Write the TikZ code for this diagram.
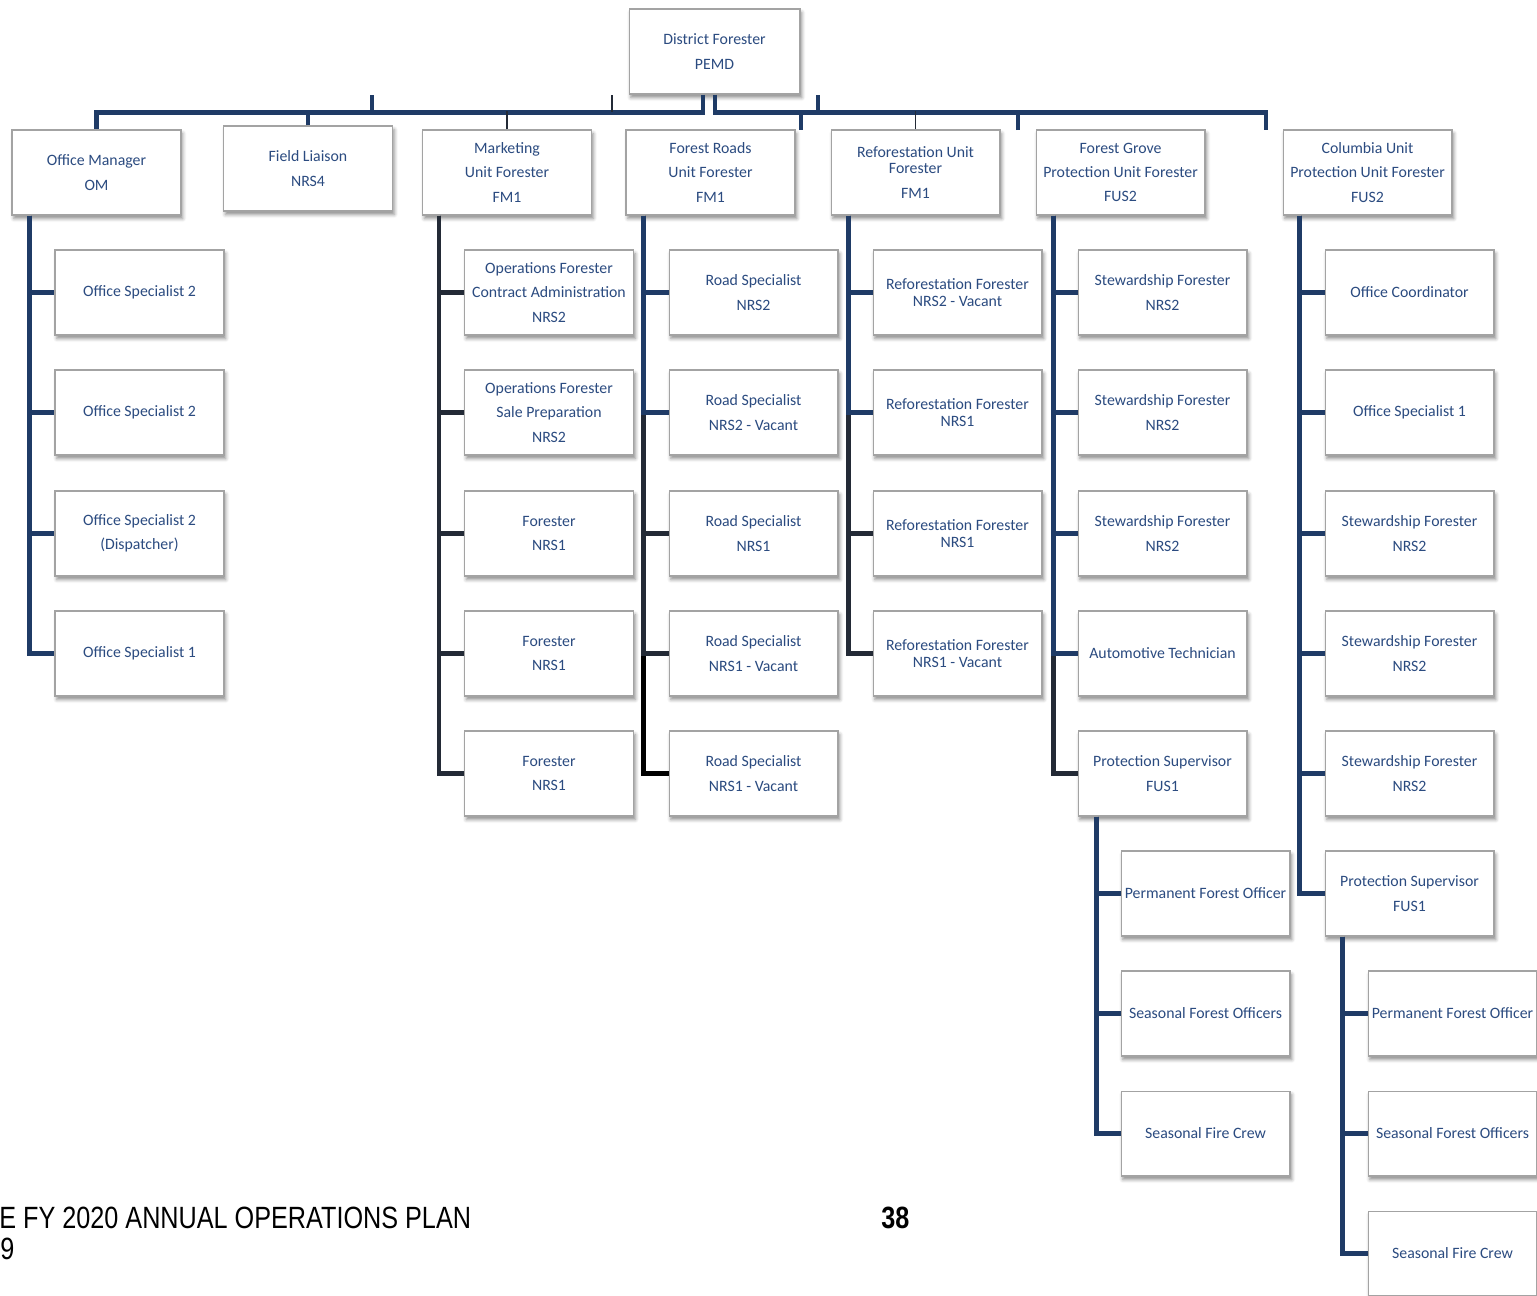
\documentclass[tikz,border=0pt]{standalone}
\usepackage{fontspec}
\setmainfont{Carlito}
\newfontfamily\footfont[FakeStretch=0.82]{Liberation Sans}
\usetikzlibrary{shadows.blur}

\definecolor{txtblue}{HTML}{2B4B80}
\definecolor{linkblue}{HTML}{1F3B66}
\definecolor{linkdark}{HTML}{232A36}
\definecolor{boxgray}{HTML}{A3A3A3}

\tikzset{
  post/.style={draw=boxgray, line width=0.6pt, fill=white, inner sep=0pt,
    minimum width=3.38cm, minimum height=1.7cm, align=center, text=txtblue,
    font=\fontsize{9}{13.9}\selectfont,
    blur shadow={shadow xshift=1pt, shadow yshift=-2pt, shadow blur radius=2pt, shadow opacity=45}},
  link/.style={draw=linkblue, line width=2.8pt, line join=miter},
  darklink/.style={link, draw=linkdark},
  blacklink/.style={link, draw=black},
  thinlink/.style={draw=linkdark, line width=1.1pt}
}

\begin{document}
\begin{tikzpicture}[x=0.02cm, y=-0.02cm]
  \useasboundingbox (0,0) rectangle (1537,1295);

  % top of the chart
  \node[post, minimum width=3.42cm] (df) at (714.5,51.5) {District Forester\\PEMD};

  \node[post] (om) at (96.5,172.5) {Office Manager\\OM};
  \node[post] (fl) at (308,168.5) {Field Liaison\\NRS4};
  \node[post] (mk) at (507,172.5) {Marketing\\Unit Forester\\FM1};
  \node[post] (fr) at (710.5,172.5) {Forest Roads\\Unit Forester\\FM1};
  \node[post] (rf) at (915.5,172.5) {Reforestation Unit\\[-4.3pt]Forester\\[0.3pt]FM1};
  \node[post] (fg) at (1120.5,172.5) {Forest Grove\\Protection Unit Forester\\FUS2};
  \node[post] (cu) at (1367.5,172.5) {Columbia Unit\\Protection Unit Forester\\FUS2};

  % office
  \node[post] (os1) at (139.5,292.5) {Office Specialist 2};
  \node[post] (os2) at (139.5,412.5) {Office Specialist 2};
  \node[post] (os3) at (139.5,533.5) {Office Specialist 2\\(Dispatcher)};
  \node[post] (os4) at (139.5,653.5) {Office Specialist 1};

  % marketing
  \node[post] (mk1) at (549,292.5) {Operations Forester\\Contract Administration\\NRS2};
  \node[post] (mk2) at (549,412.5) {Operations Forester\\Sale Preparation\\NRS2};
  \node[post] (mk3) at (549,533.5) {Forester\\NRS1};
  \node[post] (mk4) at (549,653.5) {Forester\\NRS1};
  \node[post] (mk5) at (549,773.5) {Forester\\NRS1};

  % roads
  \node[post] (fr1) at (753.5,292.5) {Road Specialist\\NRS2};
  \node[post] (fr2) at (753.5,412.5) {Road Specialist\\NRS2 - Vacant};
  \node[post] (fr3) at (753.5,533.5) {Road Specialist\\NRS1};
  \node[post] (fr4) at (753.5,653.5) {Road Specialist\\NRS1 - Vacant};
  \node[post] (fr5) at (753.5,773.5) {Road Specialist\\NRS1 - Vacant};

  % reforestation
  \node[post] (rf1) at (957.5,292.5) {Reforestation Forester\\[-4pt]NRS2 - Vacant};
  \node[post] (rf2) at (957.5,412.5) {Reforestation Forester\\[-4pt]NRS1};
  \node[post] (rf3) at (957.5,533.5) {Reforestation Forester\\[-4pt]NRS1};
  \node[post] (rf4) at (957.5,653.5) {Reforestation Forester\\[-4pt]NRS1 - Vacant};

  % forest grove
  \node[post] (fg1) at (1162.5,292.5) {Stewardship Forester\\NRS2};
  \node[post] (fg2) at (1162.5,412.5) {Stewardship Forester\\NRS2};
  \node[post] (fg3) at (1162.5,533.5) {Stewardship Forester\\NRS2};
  \node[post] (fg4) at (1162.5,653.5) {Automotive Technician};
  \node[post] (fg5) at (1162.5,773.5) {Protection Supervisor\\FUS1};
  \node[post] (fgp1) at (1205.5,893.5) {Permanent Forest Officer};
  \node[post] (fgp2) at (1205.5,1013.5) {Seasonal Forest Officers};
  \node[post] (fgp3) at (1205.5,1133.5) {Seasonal Fire Crew};

  % columbia
  \node[post] (cu1) at (1409.5,292.5) {Office Coordinator};
  \node[post] (cu2) at (1409.5,412.5) {Office Specialist 1};
  \node[post] (cu3) at (1409.5,533.5) {Stewardship Forester\\NRS2};
  \node[post] (cu4) at (1409.5,653.5) {Stewardship Forester\\NRS2};
  \node[post] (cu5) at (1409.5,773.5) {Stewardship Forester\\NRS2};
  \node[post] (cu6) at (1409.5,893.5) {Protection Supervisor\\FUS1};
  \node[post] (cup1) at (1452.5,1013.5) {Permanent Forest Officer};
  \node[post] (cup2) at (1452.5,1133.5) {Seasonal Forest Officers};
  \node[post] (cup3) at (1452.5,1253.5) {Seasonal Fire Crew};

  % loose ends of the top bar
  \coordinate (t1) at (372,95);
  \coordinate (t2) at (612,95);
  \coordinate (t3) at (818,95);
  \coordinate (t4) at (801,130);
  \coordinate (t5) at (1018,130);
  \coordinate (t6) at (1266,130);

  \draw[link] ([xshift=-0.23cm]df.south) -- ++(0,18) -| (om.north);
  \draw[link] ([xshift=0.01cm]df.south) -- ++(0,18) -| (t6);
  \draw[link] (t1) -- ++(0,17);
  \draw[link] (t3) -- ++(0,17);
  \draw[link] (t4) -- ++(0,-18);
  \draw[link] (t5) -- ++(0,-18);
  \draw[link] (fl.north) -- ++(0,-14);
  \draw[thinlink] (t2) -- ++(0,17);
  \draw[thinlink] (mk.north) -- ++(0,-18);
  \draw[thinlink] (rf.north) -- ++(0,-18);

  % office
  \draw[link] (om.south west) ++(18,0) |- (os4.west);
  \draw[link] (om.south west) ++(18,0) |- (os3.west);
  \draw[link] (om.south west) ++(18,0) |- (os2.west);
  \draw[link] (om.south west) ++(18,0) |- (os1.west);

  % marketing
  \draw[darklink] (mk.south west) ++(17,0) |- (mk5.west);
  \draw[darklink] (mk.south west) ++(17,0) |- (mk4.west);
  \draw[darklink] (mk.south west) ++(17,0) |- (mk3.west);
  \draw[darklink] (mk.south west) ++(17,0) |- (mk2.west);
  \draw[darklink] (mk.south west) ++(17,0) |- (mk1.west);

  % roads
  \draw[blacklink] (fr.south west) ++(18,0) |- (fr5.west);
  \draw[darklink] (fr.south west) ++(18,0) |- (fr4.west);
  \draw[darklink] (fr.south west) ++(18,0) |- (fr3.west);
  \draw[link] (fr.south west) ++(18,0) |- (fr2.west);
  \draw[link] (fr.south west) ++(18,0) |- (fr1.west);

  % reforestation
  \draw[darklink] (rf.south west) ++(18,0) |- (rf4.west);
  \draw[darklink] (rf.south west) ++(18,0) |- (rf3.west);
  \draw[link] (rf.south west) ++(18,0) |- (rf2.west);
  \draw[link] (rf.south west) ++(18,0) |- (rf1.west);

  % forest grove
  \draw[darklink] (fg.south west) ++(18,0) |- (fg5.west);
  \draw[link] (fg.south west) ++(18,0) |- (fg4.west);
  \draw[link] (fg.south west) ++(18,0) |- (fg3.west);
  \draw[link] (fg.south west) ++(18,0) |- (fg2.west);
  \draw[link] (fg.south west) ++(18,0) |- (fg1.west);
  \draw[link] (fg5.south west) ++(19,0) |- (fgp3.west);
  \draw[link] (fg5.south west) ++(19,0) |- (fgp2.west);
  \draw[link] (fg5.south west) ++(19,0) |- (fgp1.west);

  % columbia
  \draw[link] (cu.south west) ++(17,0) |- (cu6.west);
  \draw[link] (cu.south west) ++(17,0) |- (cu5.west);
  \draw[link] (cu.south west) ++(17,0) |- (cu4.west);
  \draw[link] (cu.south west) ++(17,0) |- (cu3.west);
  \draw[link] (cu.south west) ++(17,0) |- (cu2.west);
  \draw[link] (cu.south west) ++(17,0) |- (cu1.west);
  \draw[link] (cu6.south west) ++(18,0) |- (cup3.west);
  \draw[link] (cu6.south west) ++(18,0) |- (cup2.west);
  \draw[link] (cu6.south west) ++(18,0) |- (cup1.west);

  % page footer
  \node[anchor=base west, inner sep=0pt, font=\footfont\fontsize{17.5}{20}\selectfont] (plan) at (-1,1228) {E FY 2020 ANNUAL OPERATIONS PLAN};
  \node[anchor=base west, inner sep=0pt, font=\footfont\fontsize{17.5}{20}\selectfont] (year) at (0,1259) {9};
  \node[anchor=base west, inner sep=0pt, font=\footfont\bfseries\fontsize{17.5}{20}\selectfont] (page) at (881,1228) {38};
\end{tikzpicture}
\end{document}
